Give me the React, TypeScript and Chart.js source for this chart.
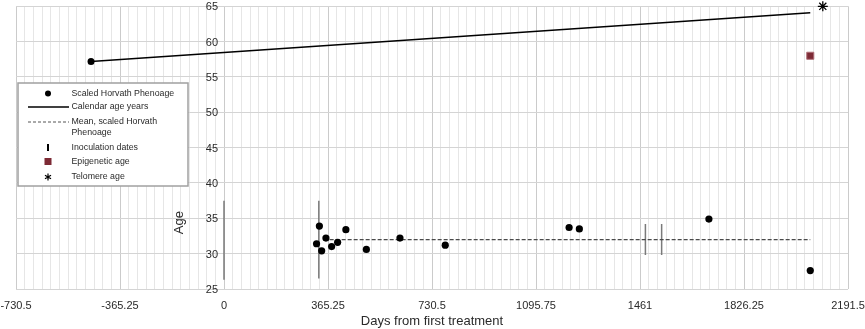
import React, { useEffect, useRef } from "react";
import { Chart, registerables } from "chart.js";

Chart.register(...registerables);

// ---------- data ----------
const phenoDays = [325, 335, 343, 358, 378, 399, 428, 500, 618, 777, 1212, 1248, 1703, 2059];
const phenoAges = [31.4, 33.9, 30.4, 32.2, 31.0, 31.6, 33.4, 30.6, 32.2, 31.2, 33.7, 33.5, 34.9, 27.6];

const calendarDays = [-467, 2059];
const calendarAges = [57.2, 64.1];

const meanDays = [350, 2059];
const meanAges = [32.0, 32.0];

const inoculationDays = [0, 333, 1480, 1537];
const inoculationLow = [26.3, 26.5, 29.8, 29.8];
const inoculationHigh = [37.5, 37.5, 34.2, 34.2];

const epigeneticDays = [2059];
const epigeneticAges = [58.0];

const telomereDays = [2103];
const telomereAges = [65];

const xTickLabels = ["-730.5", "-365.25", "0", "365.25", "730.5", "1095.75", "1461", "1826.25", "2191.5"];
const yTickValues = [25, 30, 35, 40, 45, 50, 55, 60, 65];
const legendLabels = [
  "Scaled Horvath Phenoage",
  "Calendar age years",
  "Mean, scaled Horvath|Phenoage",
  "Inoculation dates",
  "Epigenetic age",
  "Telomere age",
];

const X_MIN = -730.5;
const X_MAX = 2191.5;
const MINOR_PER_MAJOR = 12;
const X_MINOR_STEP = 365.25 / MINOR_PER_MAJOR;

const FONT = '"Liberation Sans", Arial, Helvetica, sans-serif';

const overlayPlugin = {
  id: "overlay",
  afterDraw(chart: any) {
    const ctx = chart.ctx as CanvasRenderingContext2D;
    const xs = chart.scales.x;
    const ys = chart.scales.y;
    const x0 = xs.getPixelForValue(0);

    ctx.save();
    // y tick labels at the x = 0 axis
    ctx.font = `11px ${FONT}`;
    ctx.fillStyle = "#2a2a2a";
    ctx.textAlign = "right";
    ctx.textBaseline = "middle";
    for (const v of yTickValues) {
      ctx.fillText(String(v), x0 - 6, ys.getPixelForValue(v) + 1);
    }
    // y title
    ctx.save();
    ctx.translate(x0 - 45, ys.getPixelForValue(34.4));
    ctx.rotate(-Math.PI / 2);
    ctx.font = `13px ${FONT}`;
    ctx.textAlign = "center";
    ctx.textBaseline = "middle";
    ctx.fillText("Age", 0, 0);
    ctx.restore();

    // legend box
    const bx = 18, by = 83, bw = 170, bh = 103;
    ctx.fillStyle = "#ffffff";
    ctx.fillRect(bx, by, bw, bh);
    ctx.strokeStyle = "#a0a0a0";
    ctx.lineWidth = 1.5;
    ctx.strokeRect(bx, by, bw, bh);

    const mx = 48;
    const tx = 71.5;
    const rows = [93.5, 107, 122, 147.5, 161.5, 177];
    ctx.font = `8.8px ${FONT}`;
    ctx.fillStyle = "#2a2a2a";
    ctx.textAlign = "left";
    ctx.textBaseline = "middle";
    legendLabels.forEach((lab, i) => {
      const parts = lab.split("|");
      parts.forEach((p, j) => ctx.fillText(p, tx, rows[i] + j * 10.7));
    });

    // markers
    ctx.fillStyle = "#000";
    ctx.beginPath();
    ctx.arc(mx, rows[0], 3, 0, Math.PI * 2);
    ctx.fill();

    ctx.strokeStyle = "#000";
    ctx.lineWidth = 1.5;
    ctx.beginPath();
    ctx.moveTo(28, rows[1]);
    ctx.lineTo(69, rows[1]);
    ctx.stroke();

    ctx.strokeStyle = "#555";
    ctx.lineWidth = 1;
    ctx.setLineDash([3, 2]);
    ctx.beginPath();
    ctx.moveTo(28, rows[2]);
    ctx.lineTo(69, rows[2]);
    ctx.stroke();
    ctx.setLineDash([]);

    ctx.strokeStyle = "#000";
    ctx.lineWidth = 2;
    ctx.beginPath();
    ctx.moveTo(mx, rows[3] - 3.5);
    ctx.lineTo(mx, rows[3] + 3.5);
    ctx.stroke();

    ctx.fillStyle = "#7d2a35";
    ctx.fillRect(mx - 3.5, rows[4] - 3.5, 7, 7);

    ctx.strokeStyle = "#000";
    ctx.lineWidth = 1.2;
    ctx.beginPath();
    for (let k = 0; k < 3; k++) {
      const a = (Math.PI / 3) * k + Math.PI / 2;
      ctx.moveTo(mx + Math.cos(a) * 3.5, rows[5] + Math.sin(a) * 3.5);
      ctx.lineTo(mx - Math.cos(a) * 3.5, rows[5] - Math.sin(a) * 3.5);
    }
    ctx.stroke();

    ctx.restore();
  },
};

export default function App() {
  const canvasRef = useRef<HTMLCanvasElement | null>(null);

  useEffect(() => {
    if (!canvasRef.current) return;
    Chart.defaults.font.family = FONT;

    const pts = (xs: number[], ys: number[]) => xs.map((x, i) => ({ x, y: ys[i] }));

    const inoculationSets = inoculationDays.map((d, i) => ({
      label: "Inoculation dates",
      data: [
        { x: d, y: inoculationLow[i] },
        { x: d, y: inoculationHigh[i] },
      ],
      showLine: true,
      borderColor: "#7a7a7a",
      borderWidth: 1.5,
      pointRadius: 0,
    }));

    const chart = new Chart(canvasRef.current, {
      type: "scatter",
      data: {
        datasets: [
          {
            label: "Scaled Horvath Phenoage",
            data: pts(phenoDays, phenoAges),
            pointRadius: 3.6,
            pointBackgroundColor: "#000",
            pointBorderColor: "#000",
            pointBorderWidth: 0,
          },
          {
            label: "Epigenetic age",
            data: pts(epigeneticDays, epigeneticAges),
            pointStyle: "rect",
            pointRadius: 5,
            pointBackgroundColor: "#7d2a35",
            pointBorderColor: "#b07078",
            pointBorderWidth: 1,
          },
          {
            label: "Telomere age",
            data: pts(telomereDays, telomereAges),
            pointStyle: "star",
            pointRadius: 5,
            pointBorderColor: "#000",
            pointBorderWidth: 1.3,
            clip: false,
          },
          {
            label: "Calendar age years",
            data: pts(calendarDays, calendarAges),
            showLine: true,
            borderColor: "#000",
            borderWidth: 1.5,
            pointRadius: [3.5, 0],
            pointBackgroundColor: "#000",
            pointBorderWidth: 0,
          },
          {
            label: "Mean, scaled Horvath Phenoage",
            data: pts(meanDays, meanAges),
            showLine: true,
            borderColor: "#4a4a4a",
            borderWidth: 1.2,
            borderDash: [4, 2],
            pointRadius: 0,
          },
          ...inoculationSets,
        ] as any,
      },
      options: {
        responsive: false,
        devicePixelRatio: 1,
        animation: false,
        layout: { padding: { left: 16, right: 17, top: 5, bottom: 0 } },
        plugins: { legend: { display: false }, tooltip: { enabled: false } },
        scales: {
          x: {
            type: "linear",
            min: X_MIN,
            max: X_MAX,
            afterFit: (s: any) => {
              s.height = 40;
              s.paddingLeft = 0;
              s.paddingRight = 0;
            },
            border: { display: false },
            grid: {
              drawTicks: false,
              lineWidth: 1,
              color: (c: any) => (c.index % MINOR_PER_MAJOR === 0 ? "#cbcbcb" : "#e6e6e6"),
            },
            ticks: {
              stepSize: X_MINOR_STEP,
              autoSkip: false,
              maxRotation: 0,
              minRotation: 0,
              padding: 10,
              color: "#2a2a2a",
              font: { size: 11 },
              callback: (_v: any, i: number) =>
                i % MINOR_PER_MAJOR === 0 ? xTickLabels[i / MINOR_PER_MAJOR] : "",
            },
            title: {
              display: true,
              text: "Days from first treatment",
              color: "#2a2a2a",
              font: { size: 13 },
              padding: { top: 0, bottom: 0 },
            },
          },
          y: {
            type: "linear",
            min: 25,
            max: 65,
            afterFit: (s: any) => {
              s.width = 0;
              s.paddingTop = 0;
              s.paddingBottom = 0;
            },
            border: { display: false },
            grid: { drawTicks: false, color: "#d4d4d4", lineWidth: 1 },
            ticks: { stepSize: 5, display: false },
          },
        },
      } as any,
      plugins: [overlayPlugin],
    });

    return () => chart.destroy();
  }, []);

  return (
    <div style={{ position: "absolute", left: 0, top: 0, width: 865, height: 329, background: "#fff" }}>
      <canvas ref={canvasRef} width={865} height={329} style={{ display: "block" }} />
    </div>
  );
}
